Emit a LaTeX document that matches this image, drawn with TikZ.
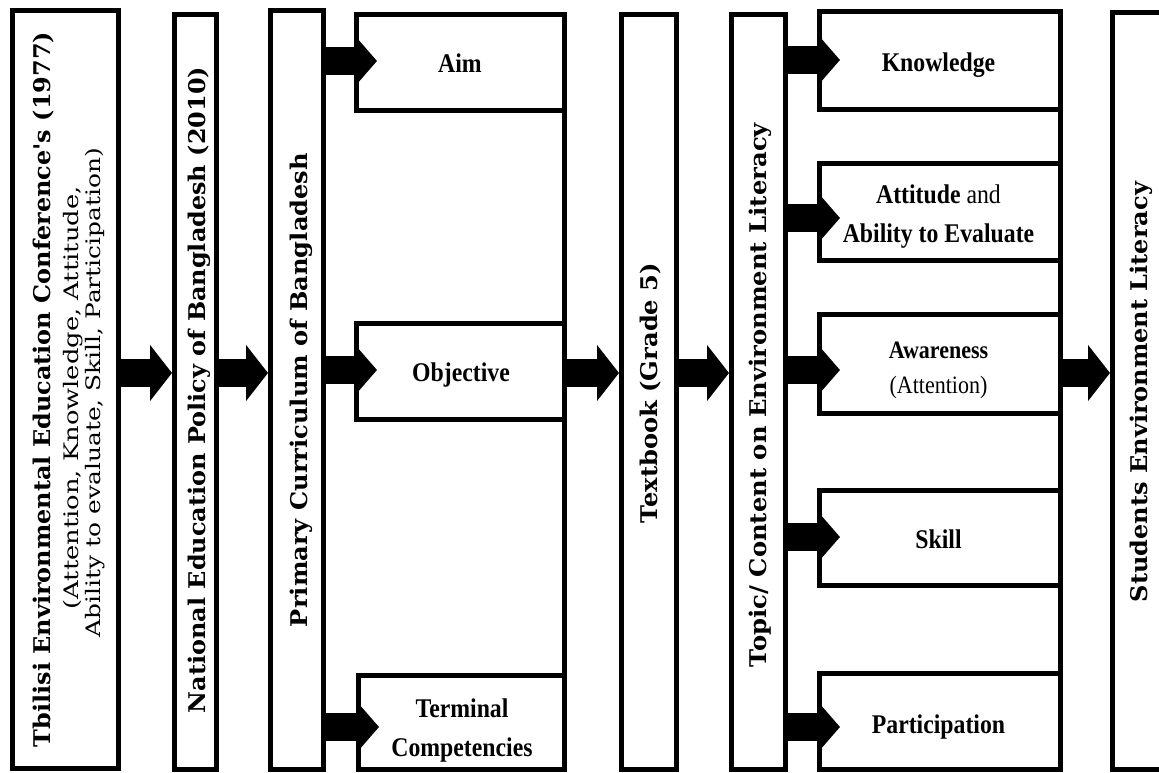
\documentclass[tikz,border=0pt]{standalone}
\usepackage{fontspec}
\usepackage{graphicx}
\setmainfont{Liberation Serif}
\newfontfamily\vfont{DejaVu Serif}
\usetikzlibrary{arrows.meta}
\begin{document}
\begin{tikzpicture}[x=1pt,y=-1pt,
  box/.style={draw, line width=5pt, inner sep=0pt, outer sep=0pt},
  bigarrow/.style={line width=28pt, -{Triangle[length=22pt,width=55pt]}, shorten >=2pt},
  subarrow/.style={line width=28pt, -{Triangle[length=21pt,width=47pt]}, shorten >=-21pt},
  htext/.style={font=\fontsize{27}{27}\selectfont\bfseries, anchor=base, xscale=0.88, inner sep=0pt},
  hreg/.style={font=\fontsize{27}{27}\selectfont, anchor=base, xscale=0.88, inner sep=0pt},
  vtext/.style={rotate=90, anchor=base, inner sep=0pt},
  vb/.style={},
]
\useasboundingbox (0,0) rectangle (1159,773);
\clip (0,0) rectangle (1159,773);
\fill[white] (0,0) rectangle (1159,773);

% main column boxes
\node[box, minimum width=106pt, minimum height=757pt] (tb)   at (65,389.5) {};
\node[box, minimum width=42pt,  minimum height=754pt] (nat)  at (195,392) {};
\node[box, minimum width=53pt,  minimum height=758pt] (prim) at (296.5,390) {};
\node[box, minimum width=55pt,  minimum height=754pt] (text) at (648.5,392) {};
\node[box, minimum width=54pt,  minimum height=754pt] (topic) at (758,392) {};
\node[box, minimum width=73pt,  minimum height=756pt] (stud) at (1148.5,391) {};

% curriculum sub boxes
\node[box, minimum width=208pt, minimum height=96pt] (aim)  at (460,63) {};
\node[box, minimum width=208pt, minimum height=96pt] (obj)  at (460,371) {};
\node[box, minimum width=206pt, minimum height=94pt] (term) at (461,722) {};
\draw[line width=5pt] (aim.north east) -- (term.south east);

% literacy sub boxes
\node[box, minimum width=241pt, minimum height=98pt] (know) at (939.5,61) {};
\node[box, minimum width=241pt, minimum height=97pt] (att)  at (939.5,211.5) {};
\node[box, minimum width=241pt, minimum height=99pt] (awa)  at (939.5,363.5) {};
\node[box, minimum width=241pt, minimum height=95pt] (skill) at (939.5,537.5) {};
\node[box, minimum width=241pt, minimum height=96pt] (part) at (939.5,721) {};
\draw[line width=5pt] (know.north east) -- (part.south east);

% vertical texts
\node[vtext] (tb1) at (50,389.5) {\resizebox{715pt}{\height}{\vfont\fontsize{23}{23}\selectfont\bfseries Tbilisi Environmental Education Conference's (1977)}};
\node[vtext] (tb2) at (78,398) {\resizebox{423pt}{\height}{\vfont\fontsize{20}{20}\selectfont (Attention, Knowledge, Attitude,}};
\node[vtext] (tb3) at (100,392.5) {\resizebox{489pt}{\height}{\vfont\fontsize{20}{20}\selectfont Ability to evaluate, Skill, Participation)}};
\node[vtext] (natt) at (205,390) {\resizebox{646pt}{\height}{\vfont\fontsize{23}{23}\selectfont\bfseries National Education Policy of Bangladesh (2010)}};
\node[vtext] (primt) at (307,390) {\resizebox{474pt}{\height}{\vfont\fontsize{23}{23}\selectfont\bfseries Primary Curriculum of Bangladesh}};
\node[vtext] (textt) at (657,393) {\resizebox{260pt}{\height}{\vfont\fontsize{23}{23}\selectfont\bfseries Textbook (Grade 5)}};
\node[vtext] (topict) at (766,395) {\resizebox{544pt}{\height}{\vfont\fontsize{23}{23}\selectfont\bfseries Topic/ Content on Environment Literacy}};
\node[vtext] (studt) at (1147,392) {\resizebox{420pt}{\height}{\vfont\fontsize{23}{23}\selectfont\bfseries Students Environment Literacy}};

% horizontal texts
\node[htext] (aimt) at (460,73) {Aim};
\node[htext] (objt) at (461,381) {Objective};
\node[htext] (term1) at (462,717) {Terminal};
\node[htext] (term2) at (462,756) {Competencies};
\node[htext] (knowt) at (938.5,72) {Knowledge};
\node[htext] (att1) at (938.5,203) {Attitude\textmd{ and}};
\node[htext] (att2) at (938.5,242) {Ability to Evaluate};
\node[htext, font=\fontsize{25}{25}\selectfont\bfseries] (awa1) at (938.5,358) {Awareness};
\node[hreg, font=\fontsize{25}{25}\selectfont] (awa2) at (938.5,393) {(Attention)};
\node[htext] (skillt) at (938.5,548) {Skill};
\node[htext] (partt) at (938.5,733) {Participation};

% main arrows
\draw[bigarrow] (tb.east |- 0,373) -- (nat.west |- 0,373);
\draw[bigarrow] (nat.east |- 0,373) -- (prim.west |- 0,373);
\draw[bigarrow] (obj.east |- 0,373) -- (text.west |- 0,373);
\draw[bigarrow] (text.east |- 0,373) -- (topic.west |- 0,373);
\draw[bigarrow] (awa.east |- 0,373) -- (stud.west |- 0,373);

% sub arrows
\draw[subarrow] (prim.east |- 0,61) -- (aim.west |- 0,61);
\draw[subarrow] (prim.east |- 0,370) -- (obj.west |- 0,370);
\draw[subarrow] (prim.east |- 0,727) -- (term.west |- 0,727);
\draw[subarrow] (topic.east |- 0,60) -- (know.west |- 0,60);
\draw[subarrow] (topic.east |- 0,218) -- (att.west |- 0,218);
\draw[subarrow] (topic.east |- 0,370) -- (awa.west |- 0,370);
\draw[subarrow] (topic.east |- 0,537) -- (skill.west |- 0,537);
\draw[subarrow] (topic.east |- 0,727) -- (part.west |- 0,727);
\end{tikzpicture}
\end{document}
